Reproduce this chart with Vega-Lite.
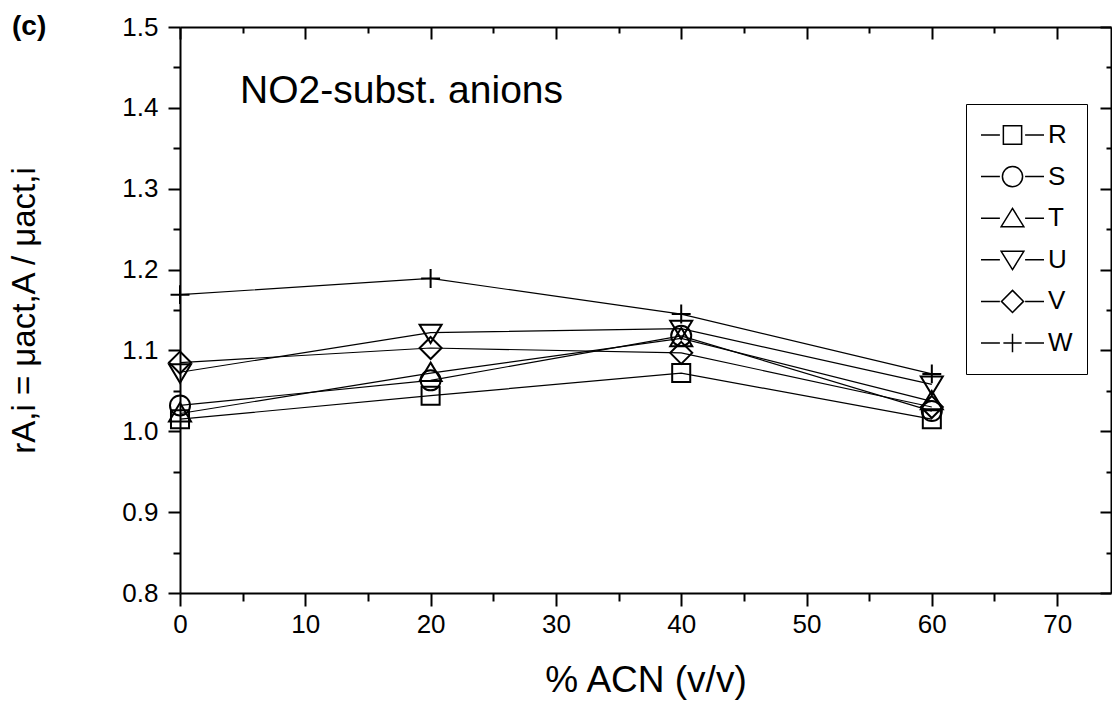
{
  "$schema": "https://vega.github.io/schema/vega-lite/v6.json",
  "width": 931,
  "height": 566,
  "autosize": "none",
  "padding": {"left": 180, "top": 27, "right": 1, "bottom": 108},
  "background": "white",
  "config": {
    "font": "Liberation Sans",
    "view": {"stroke": null},
    "axis": {"grid": false, "domainColor": "black", "domainWidth": 2, "tickColor": "black", "tickWidth": 2, "labelColor": "black", "titleColor": "black", "labelFont": "Liberation Sans", "titleFont": "Liberation Sans"}
  },
  "title": {"text": "(c)", "anchor": "start", "frame": "group", "fontSize": 28, "fontWeight": "bold", "font": "Liberation Sans", "color": "black", "baseline": "alphabetic", "offset": 0, "dx": -168, "dy": 49},
  "data": {"values": [
    {"acn": 0, "r": 1.015, "series": "R"}, {"acn": 20, "r": 1.044, "series": "R"}, {"acn": 40, "r": 1.072, "series": "R"}, {"acn": 60, "r": 1.015, "series": "R"},
    {"acn": 0, "r": 1.032, "series": "S"}, {"acn": 20, "r": 1.063, "series": "S"}, {"acn": 40, "r": 1.118, "series": "S"}, {"acn": 60, "r": 1.025, "series": "S"},
    {"acn": 0, "r": 1.022, "series": "T"}, {"acn": 20, "r": 1.072, "series": "T"}, {"acn": 40, "r": 1.115, "series": "T"}, {"acn": 60, "r": 1.037, "series": "T"},
    {"acn": 0, "r": 1.073, "series": "U"}, {"acn": 20, "r": 1.122, "series": "U"}, {"acn": 40, "r": 1.127, "series": "U"}, {"acn": 60, "r": 1.058, "series": "U"},
    {"acn": 0, "r": 1.085, "series": "V"}, {"acn": 20, "r": 1.103, "series": "V"}, {"acn": 40, "r": 1.097, "series": "V"}, {"acn": 60, "r": 1.030, "series": "V"},
    {"acn": 0, "r": 1.169, "series": "W"}, {"acn": 20, "r": 1.189, "series": "W"}, {"acn": 40, "r": 1.145, "series": "W"}, {"acn": 60, "r": 1.071, "series": "W"}
  ]},
  "layer": [
    {
      "mark": {"type": "line", "color": "black", "strokeWidth": 1.2},
      "encoding": {
        "x": {"field": "acn", "type": "quantitative", "scale": {"domain": [0, 74.3], "nice": false, "zero": false},
          "axis": {"orient": "bottom", "values": [0,5,10,15,20,25,30,35,40,45,50,55,60,65,70], "format": "d",
            "labelExpr": "datum.value % 10 == 0 ? datum.label : ''",
            "tickSize": {"condition": {"test": "datum.value % 10 == 0", "value": 13}, "value": 8},
            "labelFontSize": 26, "labelPadding": 5, "labelFlush": false, "labelOverlap": false,
            "title": "% ACN (v/v)", "titleFontSize": 37, "titleFontWeight": "normal", "titlePadding": 25}},
        "y": {"field": "r", "type": "quantitative", "scale": {"domain": [0.8, 1.5], "nice": false, "zero": false},
          "axis": {"orient": "left", "values": [0.8,0.85,0.9,0.95,1,1.05,1.1,1.15,1.2,1.25,1.3,1.35,1.4,1.45,1.5],
            "labelExpr": "abs(datum.value*10 - round(datum.value*10)) < 0.001 ? format(datum.value, '.1f') : ''",
            "tickSize": {"condition": {"test": "abs(datum.value*10 - round(datum.value*10)) < 0.001", "value": 12}, "value": 7},
            "labelFontSize": 26, "labelPadding": 10, "labelOverlap": false, "labelFlush": false,
            "title": "rA,i = μact,A / μact,i", "titleFontSize": 33, "titleFontWeight": "normal", "titlePadding": 80}},
        "detail": {"field": "series"}
      }
    },
    {
      "mark": {"type": "point", "filled": false, "color": "black", "strokeWidth": 2, "size": 484, "opacity": 1},
      "encoding": {
        "x": {"field": "acn", "type": "quantitative", "axis": null},
        "y": {"field": "r", "type": "quantitative", "axis": null},
        "shape": {"field": "series", "type": "nominal", "legend": null,
          "scale": {"domain": ["R","S","T","U","V","W"], "range": [
            "M-0.82,-0.82H0.82V0.82H-0.82Z",
            "M0.91,0A0.91,0.91,0,1,1,-0.91,0A0.91,0.91,0,1,1,0.91,0Z",
            "M0,-0.95L1,0.72L-1,0.72Z",
            "M0,0.95L1,-0.72L-1,-0.72Z",
            "M0,-1L1,0L0,1L-1,0Z",
            "M-0.86,0H0.86M0,-0.86V0.86"
          ]}}
      }
    },
    {
      "mark": {"type": "point", "filled": false, "color": "black", "opacity": 0, "size": 3969},
      "encoding": {
        "x": {"field": "acn", "type": "quantitative",
          "axis": {"orient": "top", "values": [0,5,10,15,20,25,30,35,40,45,50,55,60,65,70], "labels": false, "title": null,
            "tickSize": {"condition": {"test": "datum.value % 10 == 0", "value": -12}, "value": -6}}},
        "y": {"field": "r", "type": "quantitative",
          "axis": {"orient": "right", "values": [0.8,0.85,0.9,0.95,1,1.05,1.1,1.15,1.2,1.25,1.3,1.35,1.4,1.45,1.5], "labels": false, "title": null,
            "tickSize": {"condition": {"test": "abs(datum.value*10 - round(datum.value*10)) < 0.001", "value": -11}, "value": -5}}},
        "shape": {"field": "series", "type": "nominal",
          "scale": {"domain": ["R","S","T","U","V","W"], "range": [
            "M-1,0H-0.4M0.4,0H1M-0.29,-0.29H0.29V0.29H-0.29Z",
            "M-1,0H-0.4M0.4,0H1M0.32,0A0.32,0.32,0,1,1,-0.32,0A0.32,0.32,0,1,1,0.32,0Z",
            "M-1,0H-0.4M0.4,0H1M0,-0.31L0.36,0.27H-0.36Z",
            "M-1,0H-0.4M0.4,0H1M0,0.31L0.36,-0.27H-0.36Z",
            "M-1,0H-0.4M0.4,0H1M0,-0.35L0.35,0L0,0.35L-0.35,0Z",
            "M-1,0H-0.4M0.4,0H1M-0.29,0H0.29M0,-0.29V0.29"
          ]},
          "legend": {"orient": "none", "legendX": 786, "legendY": 77, "title": null, "symbolSize": 3969, "clipHeight": 34, "rowPadding": 7.6, "padding": 14,
            "strokeColor": "black", "labelFontSize": 26, "labelOffset": 3, "labelColor": "black", "labelFont": "Liberation Sans",
            "symbolStrokeColor": "black", "symbolStrokeWidth": 1.5, "symbolFillColor": "transparent", "symbolOpacity": 1,
            "encode": {"legend": {"update": {"strokeWidth": {"value": 2}}}}}}
      }
    },
    {
      "data": {"values": [{"label": "NO2-subst. anions"}]},
      "mark": {"type": "text", "align": "left", "baseline": "alphabetic", "fontSize": 39, "color": "black", "font": "Liberation Sans"},
      "encoding": {
        "x": {"datum": 4.79, "type": "quantitative", "axis": null},
        "y": {"datum": 1.406, "type": "quantitative", "axis": null},
        "text": {"field": "label", "type": "nominal"}
      }
    }
  ],
  "resolve": {"scale": {"shape": "independent"}, "axis": {"x": "independent", "y": "independent"}}
}
